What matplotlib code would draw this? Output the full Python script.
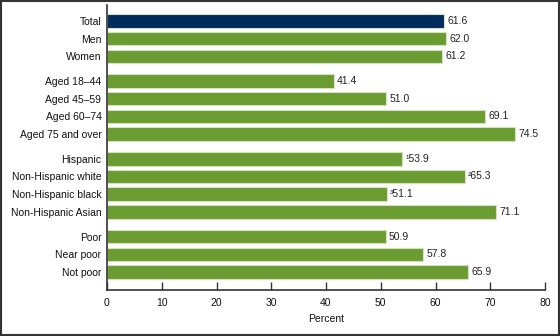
import matplotlib
matplotlib.use("Agg")
import matplotlib.pyplot as plt
from matplotlib.patches import Rectangle

plt.rcParams['font.family'] = ['Liberation Sans', 'DejaVu Sans']

categories = ["Total", "Men", "Women",
              "Aged 18\u201344", "Aged 45\u201359", "Aged 60\u201374", "Aged 75 and over",
              "Hispanic", "Non-Hispanic white", "Non-Hispanic black", "Non-Hispanic Asian",
              "Poor", "Near poor", "Not poor"]
values = [61.6, 62.0, 61.2, 41.4, 51.0, 69.1, 74.5, 53.9, 65.3, 51.1, 71.1, 50.9, 57.8, 65.9]
value_labels = ["61.6", "62.0", "61.2", "41.4", "51.0", "69.1", "74.5",
                "\u00b953.9", "\u00b265.3", "\u00b351.1", "71.1", "50.9", "57.8", "65.9"]
groups = [0, 0, 0, 1, 1, 1, 1, 2, 2, 2, 2, 3, 3, 3]
xticks = [0, 10, 20, 30, 40, 50, 60, 70, 80]

green = "#6b9c31"
navy = "#002b5c"

fig = plt.figure(figsize=(5.6, 3.36), dpi=100)
ax = fig.add_axes([107/560, 1 - 290/336, (545 - 107)/560, (290 - 5)/336])

gap = 0.4
pos = [i + g * gap for i, g in enumerate(groups)]
colors = [navy] + [green] * (len(values) - 1)
ax.barh(pos, values, height=0.76, color=colors, edgecolor="#d5e3c0", linewidth=0.8, zorder=2)

for p, v, lab in zip(pos, values, value_labels):
    ax.text(v + 0.6, p, lab, va="center", ha="left", fontsize=7.5, color="#222222")

ax.set_yticks(pos)
ax.set_yticklabels(categories, fontsize=7.5, color="#111111")
ax.set_ylim(pos[-1] + 1.02, pos[0] - 0.9)
ax.set_xlim(0, 80)
ax.set_xticks(xticks)
ax.set_xticklabels([str(t) for t in xticks], fontsize=7.5, color="#111111")
ax.tick_params(axis="y", length=0, pad=4)
ax.tick_params(axis="x", direction="in", length=6, width=1.0, color="#333333", pad=6)
ax.set_xlabel("Percent", fontsize=7.5, color="#111111", labelpad=4)

for s in ["top", "right"]:
    ax.spines[s].set_visible(False)
for s in ["left", "bottom"]:
    ax.spines[s].set_color("#333333")
    ax.spines[s].set_linewidth(1.2)

fig.patches.append(Rectangle((0.001, 0.002), 0.997, 0.995, transform=fig.transFigure,
                             fill=False, edgecolor="#333333", linewidth=1.5))

fig.savefig("out.png", dpi=100)
